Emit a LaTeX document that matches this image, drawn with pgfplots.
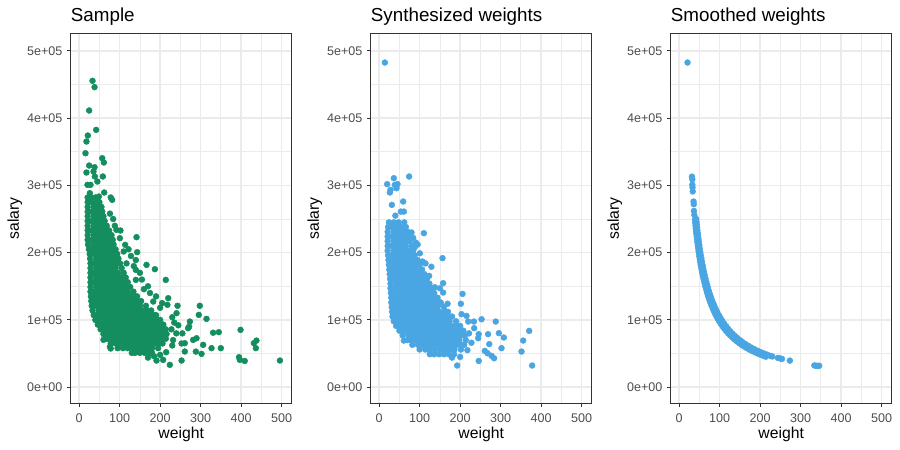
\documentclass[border=0pt]{standalone}
\usepackage{pgfplots}
\pgfplotsset{compat=1.18}
\usepackage{fontspec}
\setmainfont{Liberation Sans}
\definecolor{grey92}{HTML}{EBEBEB}
\definecolor{grey20}{HTML}{333333}
\definecolor{grey30}{HTML}{4D4D4D}
\definecolor{ptgreen}{HTML}{148E5E}
\definecolor{ptblue}{HTML}{4AA6E2}
\pgfplotsset{
 panel/.style={
  scale only axis, width=165.75bp, height=277.5bp,
  xmin=-21, xmax=525, ymin=-24000, ymax=526000,
  xtick={0,100,200,300,400,500}, xticklabels={0,100,200,300,400,500},
  ytick={0,100000,200000,300000,400000,500000},
  yticklabels={0e+00,1e+05,2e+05,3e+05,4e+05,5e+05},
  minor xtick={50,150,250,350,450},
  minor ytick={50000,150000,250000,350000,450000},
  scaled y ticks=false, scaled x ticks=false,
  grid=both,
  major grid style={draw=grey92, line width=1.07bp},
  minor grid style={draw=grey92, line width=0.55bp},
  axis line style={draw=grey20, line width=0.8bp},
  tick pos=left, tick align=outside,
  major tick length=2.75bp, minor tick length=0pt,
  every tick/.style={draw=grey20, line width=0.8bp},
  tick label style={font=\fontsize{9.4bp}{11bp}\selectfont, text=grey30},
  xticklabel style={yshift=-1.5bp},
  xlabel=weight, ylabel=salary,
  label style={font=\fontsize{11.8bp}{13bp}\selectfont},
  xlabel style={at={(axis description cs:0.5,-0.0955)}, anchor=base, inner sep=0pt},
  ylabel style={at={(axis description cs:-0.234,0.5)}, anchor=base, inner sep=0pt},
  every axis title shift=0pt,
  title style={at={(axis description cs:0,1.0332)}, anchor=base west, inner sep=0pt, font=\fontsize{14.1bp}{16bp}\selectfont},
 },
 pts/.style={only marks, color=#1, mark=*, mark size=2.2bp, mark options={solid, draw=#1, fill=#1, line width=0.35bp}},
}
\begin{document}
\begin{tikzpicture}
\path[use as bounding box, fill=white] (0,0) rectangle (675bp,337.5bp);
% ---------------- Sample ----------------
\begin{axis}[panel, at={(53bp,35bp)}, anchor=south west, title={Sample}]
\addplot[pts=ptgreen] coordinates {
(21,282000) (30,282000) (40,282000)
(21,275000) (30,275000) (42,275000) (50,275000)
(21,268000) (36,268000) (48,268000) (55,268000)
(21,261000) (30,261000) (42,261000) (54,261000) (57,261000)
(21,254000) (36,254000) (48,254000) (60,254000)
(21,247000) (30,247000) (42,247000) (54,247000) (63,247000)
(21,240000) (36,240000) (48,240000) (60,240000) (68,240000)
(21,233000) (30,233000) (42,233000) (54,233000) (66,233000) (74,233000)
(21,226000) (36,226000) (48,226000) (60,226000) (72,226000) (80,226000)
(21,219000) (30,219000) (42,219000) (54,219000) (66,219000) (78,219000) (83,219000)
(22,212000) (36,212000) (48,212000) (60,212000) (72,212000) (85,212000)
(24,205000) (30,205000) (42,205000) (54,205000) (66,205000) (78,205000) (90,205000)
(26,198000) (36,198000) (48,198000) (60,198000) (72,198000) (84,198000) (94,198000)
(27,191000) (42,191000) (54,191000) (66,191000) (78,191000) (90,191000) (97,191000)
(28,184000) (36,184000) (48,184000) (60,184000) (72,184000) (84,184000) (96,184000) (101,184000)
(28,177000) (42,177000) (54,177000) (66,177000) (78,177000) (90,177000) (105,177000)
(28,170000) (36,170000) (48,170000) (60,170000) (72,170000) (84,170000) (96,170000) (110,170000)
(28,163000) (42,163000) (54,163000) (66,163000) (78,163000) (90,163000) (102,163000) (115,163000)
(28,156000) (36,156000) (48,156000) (60,156000) (72,156000) (84,156000) (96,156000) (108,156000) (120,156000)
(28,149000) (42,149000) (54,149000) (66,149000) (78,149000) (90,149000) (102,149000) (114,149000) (126,149000)
(28,142000) (36,142000) (48,142000) (60,142000) (72,142000) (84,142000) (96,142000) (108,142000) (120,142000) (134,142000)
(29,135000) (42,135000) (54,135000) (66,135000) (78,135000) (90,135000) (102,135000) (114,135000) (126,135000) (138,135000) (143,135000)
(30,128000) (36,128000) (48,128000) (60,128000) (72,128000) (84,128000) (96,128000) (108,128000) (120,128000) (132,128000) (144,128000) (153,128000)
(31,121000) (42,121000) (54,121000) (66,121000) (78,121000) (90,121000) (102,121000) (114,121000) (126,121000) (138,121000) (150,121000) (165,121000)
(33,114000) (48,114000) (60,114000) (72,114000) (84,114000) (96,114000) (108,114000) (120,114000) (132,114000) (144,114000) (156,114000) (168,114000) (178,114000)
(36,107000) (42,107000) (54,107000) (66,107000) (78,107000) (90,107000) (102,107000) (114,107000) (126,107000) (138,107000) (150,107000) (162,107000) (174,107000) (186,107000) (190,107000)
(40,100000) (48,100000) (60,100000) (72,100000) (84,100000) (96,100000) (108,100000) (120,100000) (132,100000) (144,100000) (156,100000) (168,100000) (180,100000) (192,100000) (200,100000)
(46,93000) (54,93000) (66,93000) (78,93000) (90,93000) (102,93000) (114,93000) (126,93000) (138,93000) (150,93000) (162,93000) (174,93000) (186,93000) (198,93000) (208,93000)
(53,86000) (60,86000) (72,86000) (84,86000) (96,86000) (108,86000) (120,86000) (132,86000) (144,86000) (156,86000) (168,86000) (180,86000) (192,86000) (204,86000) (214,86000)
(60,79000) (66,79000) (78,79000) (90,79000) (102,79000) (114,79000) (126,79000) (138,79000) (150,79000) (162,79000) (174,79000) (186,79000) (198,79000) (210,79000) (216,79000)
(68,72000) (72,72000) (84,72000) (96,72000) (108,72000) (120,72000) (132,72000) (144,72000) (156,72000) (168,72000) (180,72000) (192,72000) (204,72000) (214,72000)
(78,65000) (90,65000) (102,65000) (114,65000) (126,65000) (138,65000) (150,65000) (162,65000) (174,65000) (186,65000) (198,65000) (206,65000)
(95,58000) (108,58000) (120,58000) (132,58000) (144,58000) (156,58000) (168,58000) (180,58000) (195,58000)
(130,51000) (138,51000) (150,51000) (162,51000) (174,51000) (180,51000)
(33,455400) (38,446000) (24.7,411300) (42,382500) (21.4,374100) (18,365200) (15.6,347800)
(18,319100) (24.7,329500) (38,327000) (57,340400) (61,334000) (58.5,313200) (35.4,320600)
(38.7,313200) (20.6,300800) (28,300800) (45,305700) (61.8,289400) (26.4,288400) (48.6,283400)
(44.5,279500) (78,282000) (81.5,278500) (76,258000) (84,250000) (88,240000)
(92,233900) (102,232900) (100.5,221500) (141.7,223000) (113.7,211600) (143.3,200700) (110,201700)
(166.4,181800) (187,175400) (140,189000) (117,184000) (140,174400) (214,159500) (140,159500)
(160,145700) (183,127300) (220,132300) (218,122400) (243,121000) (240.6,110000) (298,121000)
(295.6,107500) (314.6,101600) (273.5,97600) (269,87700) (271.7,90000) (331,81000) (345,81800)
(398.7,85200) (438,69300) (431.6,65400) (436.5,58000) (350,58000) (327,58000) (306.3,62900)
(302.4,49500) (288.3,52900) (261,65400) (261,53000) (253,39600) (224,33200) (207.5,40600)
(191,39600) (395,44600) (397,40600) (409,39000) (496,39600) (281.6,70300) (290,72800)
(255,80000) (253,65000) (232,70000) (60,70400) (76,60000) (78,57500)
(122,205000) (128,195000) (135,180000) (150,170000) (155,160000) (170,150000) (175,140000)
(190,135000) (200,118000) (205,125000) (230,104000) (235,96000) (245,92000) (228,86000)
(240,80000) (230,62000) (215,52000) (200,48000) (185,46000) (170,44000)
};
\end{axis}
% ---------------- Synthesized ----------------
\begin{axis}[panel, at={(278bp,35bp)}, anchor=south west, title={Synthesized weights}]
\addplot[pts=ptblue] coordinates {
(24,245000) (36,245000) (48,245000) (62,245000)
(22,238000) (30,238000) (42,238000) (54,238000) (66,238000)
(21,231000) (36,231000) (48,231000) (60,231000) (70,231000)
(21,224000) (30,224000) (42,224000) (54,224000) (66,224000) (72,224000)
(21,217000) (36,217000) (48,217000) (60,217000) (68,217000) (76,217000)
(21,210000) (30,210000) (42,210000) (54,210000) (66,210000) (80,210000)
(21,203000) (36,203000) (48,203000) (60,203000) (72,203000) (84,203000)
(22,196000) (30,196000) (42,196000) (54,196000) (66,196000) (78,196000) (88,196000)
(23,189000) (36,189000) (48,189000) (60,189000) (72,189000) (84,189000) (95,189000)
(24,182000) (30,182000) (42,182000) (54,182000) (66,182000) (78,182000) (90,182000) (100,182000)
(25,175000) (36,175000) (48,175000) (60,175000) (72,175000) (84,175000) (96,175000) (106,175000)
(26,168000) (32,168000) (42,168000) (54,168000) (66,168000) (78,168000) (90,168000) (102,168000) (112,168000)
(27,161000) (36,161000) (48,161000) (60,161000) (72,161000) (84,161000) (96,161000) (108,161000) (118,161000)
(28,154000) (42,154000) (54,154000) (66,154000) (78,154000) (90,154000) (102,154000) (114,154000) (124,154000)
(28,147000) (36,147000) (48,147000) (60,147000) (72,147000) (84,147000) (96,147000) (108,147000) (120,147000) (130,147000)
(29,140000) (42,140000) (54,140000) (66,140000) (78,140000) (90,140000) (102,140000) (114,140000) (126,140000) (136,140000)
(30,133000) (36,133000) (48,133000) (60,133000) (72,133000) (84,133000) (96,133000) (108,133000) (120,133000) (132,133000) (144,133000)
(30,126000) (42,126000) (54,126000) (66,126000) (78,126000) (90,126000) (102,126000) (114,126000) (126,126000) (138,126000) (152,126000)
(31,119000) (36,119000) (48,119000) (60,119000) (72,119000) (84,119000) (96,119000) (108,119000) (120,119000) (132,119000) (144,119000) (160,119000)
(32,112000) (42,112000) (54,112000) (66,112000) (78,112000) (90,112000) (102,112000) (114,112000) (126,112000) (138,112000) (150,112000) (162,112000) (170,112000)
(33,105000) (40,105000) (48,105000) (60,105000) (72,105000) (84,105000) (96,105000) (108,105000) (120,105000) (132,105000) (144,105000) (156,105000) (168,105000) (180,105000)
(36,98000) (42,98000) (54,98000) (66,98000) (78,98000) (90,98000) (102,98000) (114,98000) (126,98000) (138,98000) (150,98000) (162,98000) (174,98000) (190,98000)
(42,91000) (48,91000) (60,91000) (72,91000) (84,91000) (96,91000) (108,91000) (120,91000) (132,91000) (144,91000) (156,91000) (168,91000) (180,91000) (192,91000) (200,91000)
(50,84000) (58,84000) (66,84000) (78,84000) (90,84000) (102,84000) (114,84000) (126,84000) (138,84000) (150,84000) (162,84000) (174,84000) (186,84000) (198,84000) (208,84000)
(58,77000) (72,77000) (84,77000) (96,77000) (108,77000) (120,77000) (132,77000) (144,77000) (156,77000) (168,77000) (180,77000) (192,77000) (204,77000) (212,77000)
(70,70000) (78,70000) (90,70000) (102,70000) (114,70000) (126,70000) (138,70000) (150,70000) (162,70000) (174,70000) (186,70000) (198,70000) (214,70000)
(82,63000) (96,63000) (108,63000) (120,63000) (132,63000) (144,63000) (156,63000) (168,63000) (180,63000) (192,63000) (204,63000) (210,63000)
(100,56000) (114,56000) (126,56000) (138,56000) (150,56000) (162,56000) (174,56000) (186,56000) (202,56000)
(125,49000) (136,49000) (148,49000) (160,49000) (172,49000) (185,49000)
(14,482600) (19.8,301800) (28,293300) (26.4,289400) (36.2,310700) (38.7,300800) (45.3,301800)
(42.8,295800) (74,313200) (31.3,271000) (59.3,276000) (53.5,261000) (61,261000) (40,255000)
(110.4,228900) (90.6,215000) (88,208000) (100.5,199000) (107,186800) (114.5,184000) (129,179000)
(123.5,165500) (156.5,191800) (137.6,148600) (158,154600) (150,147000) (158,140700) (151.6,124000)
(169,124000) (201.8,124000) (206,138700) (203.5,108500) (215.8,106000) (220,97600) (234,97600)
(253,101000) (288,97600) (234.7,87700) (295.7,80300) (308,73800) (302.3,58000) (269,78800)
(246,78800) (272,64000) (244.6,72800) (261,54000) (267.7,50500) (277.6,46600) (284,43000)
(246,39000) (192.7,32200) (378,32200) (351.7,53000) (355.8,69300) (370.7,83700) (61,69300)
(80,230000) (84,222000) (95,212000) (222,80000) (228,66000) (218,55000) (200,45000) (180,44000)
};
\end{axis}
% ---------------- Smoothed ----------------
\begin{axis}[panel, at={(503bp,35bp)}, anchor=south west, title={Smoothed weights}]
\addplot[pts=ptblue] coordinates {
(39,248718) (39.7,244333) (40.4,240099) (41.1,236010) (41.8,232057) (42.5,228235)
(43.3,224018) (44.1,219955) (45,215556) (46,210870) (47,206383) (48,202083) (49,197959)
(50,194000) (51.1,189824) (52.2,185824) (53.4,181648) (54.6,177656) (55.9,173524)
(57.2,169580) (58.6,165529) (60,161667) (61.6,157468) (63.2,153481) (64.9,149461)
(66.7,145427) (68.6,141399) (70.6,137394) (72.7,133425) (75,129333) (77.5,125161)
(80,121250) (82.8,117150) (85.7,113186) (88.8,109234) (92,105435) (95.5,101571)
(99,97980) (103,94175) (107,90654) (111.5,86996) (116,83621) (121,80165) (126,76984)
(131.5,73764) (137,70803) (143,67832) (149,65101) (155,62581) (161,60248) (167.5,57910)
(174,55747) (181,53591) (188,51596) (195,49744) (202,48020) (209,46411) (214,45327)
(42,250000) (42.7,245902) (43.4,241935) (44.2,237557) (45,233333) (45.9,228758)
(46.8,224359) (47.7,220126) (48.7,215606) (49.8,210843) (51,205882) (52.2,201149)
(53.5,196262) (54.9,191257) (56.4,186170) (58,181034) (59.6,176174) (61.3,171289)
(63.1,166403) (65,161538) (67,156716) (69,152174) (71.2,147472) (73.5,142857)
(76,138158) (78.5,133758) (81.2,129310) (84,125000) (87,120690) (90.5,116022)
(94,111702) (98,107143) (102,102941) (106.5,98592) (111,94595) (116,90517) (121,86777)
(126.5,83004) (132,79545) (138,76087) (144,72917) (150.5,69767) (157,66879) (164,64024)
(171,61404) (178.5,58824) (186,56452) (194,54124) (202,51980) (210,50000) (218,48165)
(226,46460) (230,45652)
(20.7,482600) (31.5,313000) (32.5,309000) (32.5,301000) (33,297000) (33.5,291000)
(35.5,276000) (36,272000) (36.5,262000) (37.5,256000)
(244,43500) (249,42800) (254,42000) (273.5,39500) (334,32300) (338,32000) (343,31700) (346,31800)
};
\end{axis}
\end{tikzpicture}
\end{document}
